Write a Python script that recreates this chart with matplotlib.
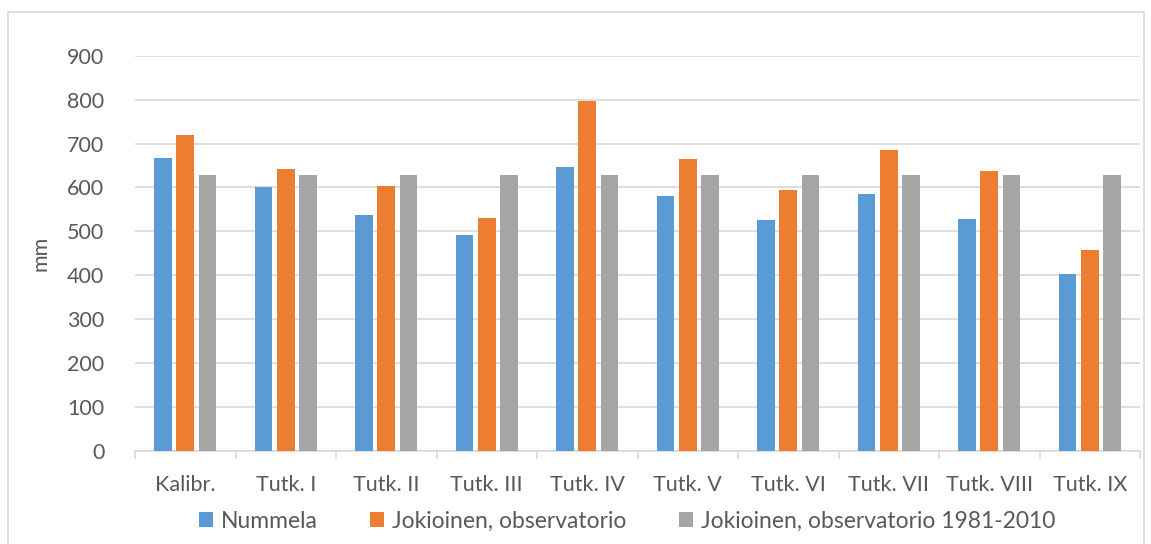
import matplotlib
matplotlib.use("Agg")
import matplotlib.pyplot as plt
from matplotlib.patches import Rectangle
import numpy as np

categories = ["Kalibr.", "Tutk. I", "Tutk. II", "Tutk. III", "Tutk. IV",
              "Tutk. V", "Tutk. VI", "Tutk. VII", "Tutk. VIII", "Tutk. IX"]
nummela = [667, 602, 537, 491, 646, 581, 525, 586, 528, 403]
jokioinen = [719, 641, 604, 530, 798, 665, 595, 686, 637, 458]
jokioinen_normal = [628, 628, 628, 628, 628, 628, 628, 628, 628, 628]
series_names = ["Nummela", "Jokioinen, observatorio",
                "Jokioinen, observatorio 1981-2010"]
yticks = [0, 100, 200, 300, 400, 500, 600, 700, 800, 900]

colors = ["#5b9bd5", "#ed7d31", "#a5a5a5"]
text_color = "#595959"
grid_color = "#d9d9d9"
fs = 15.5

plt.rcParams["font.family"] = ["Lato", "DejaVu Sans"]

W, H = 1151, 544
fig = plt.figure(figsize=(W / 100, H / 100), dpi=100)

# chart frame
fig.patches.append(Rectangle((8 / W, -0.02), 1136 / W, 1 - 12 / H + 0.02,
                             transform=fig.transFigure, fill=False,
                             edgecolor="#d9d9d9", linewidth=1.2))

ax = fig.add_axes([135 / W, (H - 451) / H, 1005 / W, (451 - 55.7) / H])

x = np.arange(len(categories))
width = 0.175
pitch = 0.22
for i, (vals, c, name) in enumerate(zip([nummela, jokioinen, jokioinen_normal],
                                        colors, series_names)):
    ax.bar(x + (i - 1) * pitch, vals, width, color=c, label=name, zorder=3)

ax.set_xlim(-0.5, len(categories) - 0.5)
ax.set_ylim(0, 900)
ax.set_yticks(yticks)
ax.yaxis.grid(True, color=grid_color, linewidth=1.2, zorder=0)
ax.set_axisbelow(True)

for s in ["top", "right", "left"]:
    ax.spines[s].set_visible(False)
ax.spines["bottom"].set_color(grid_color)
ax.spines["bottom"].set_linewidth(1.2)

ax.set_xticks(x)
ax.set_xticklabels(categories)
ax.tick_params(axis="x", length=0, pad=17, labelsize=fs, labelcolor=text_color)
ax.set_xticks(np.arange(-0.5, len(categories) + 0.5, 1), minor=True)
ax.tick_params(axis="x", which="minor", length=6, color=grid_color, width=1.2)
ax.tick_params(axis="y", length=0, pad=22, labelsize=fs, labelcolor=text_color)

ax.set_ylabel("mm", fontsize=fs, color=text_color, labelpad=12)

fig.legend(loc="center", bbox_to_anchor=(627 / W, (H - 521) / H), ncol=3,
           frameon=False, fontsize=16.5, labelcolor=text_color,
           handlelength=0.6, handleheight=0.6, handletextpad=0.35,
           columnspacing=2.3)

fig.savefig("out.png", dpi=100)
